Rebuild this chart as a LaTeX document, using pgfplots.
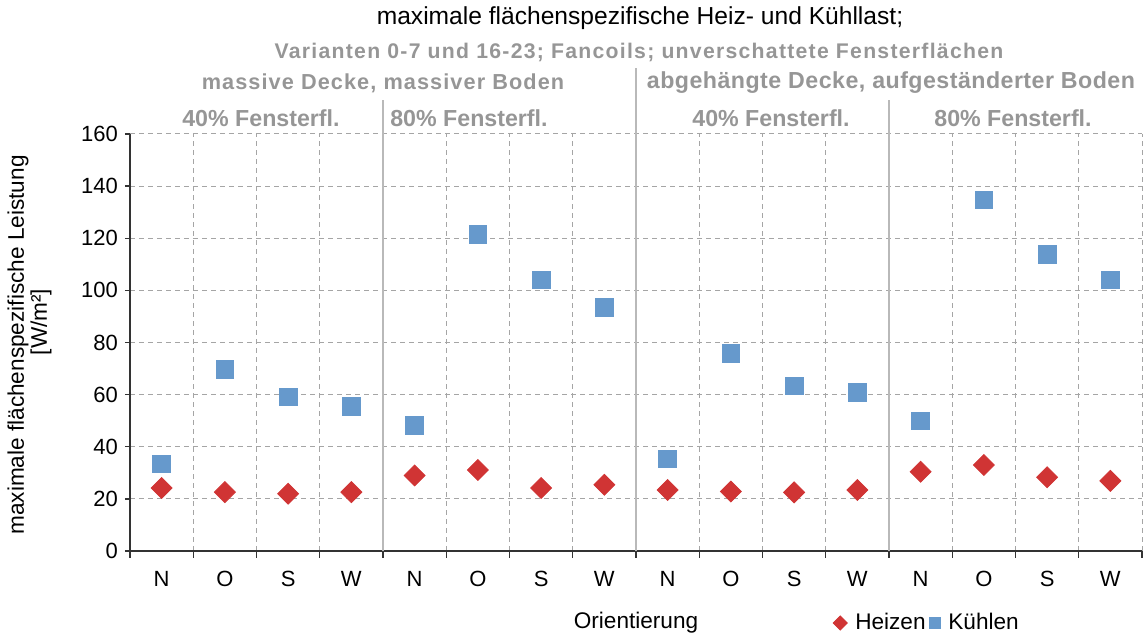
\documentclass[border=0pt]{standalone}
\usepackage{pgfplots}
\pgfplotsset{compat=1.18}
\usepackage{fontspec}
\setmainfont{Liberation Sans}
\definecolor{heiz}{RGB}{208,52,52}
\definecolor{kuehl}{RGB}{102,153,204}
\definecolor{hdrgray}{RGB}{150,150,150}
\definecolor{sepgray}{RGB}{185,185,185}
\definecolor{gridgray}{RGB}{165,165,165}

\begin{document}
\begin{tikzpicture}[x=1pt,y=1pt]
\path[use as bounding box] (-65,-43) rectangle (508.5,275.5);
\begin{axis}[
    at={(0,0)}, anchor=south west,
    scale only axis,
    width=506pt, height=208.5pt,
    xmin=-0.5, xmax=15.5, ymin=0, ymax=160,
    ytick={0,20,...,160},
    xtick={0,...,15},
    xticklabels={N,O,S,W,N,O,S,W,N,O,S,W,N,O,S,W},
    minor xtick={-0.5,0.5,...,15.5},
    xminorgrids, ymajorgrids,
    grid style={gridgray, dash pattern=on 2.5pt off 2pt, line width=0.5pt},
    minor grid style={gridgray, dash pattern=on 2.5pt off 2pt, line width=0.5pt},
    major x tick style={draw=none},
    tick align=outside,
    major tick length=2.5pt, minor tick length=3.5pt,
    axis x line*=bottom, axis y line*=left,
    axis line style={-, line width=0.9pt, black!80},
    tick style={black!80, line width=0.7pt},
    /pgf/number format/assume math mode=true,
    tick label style={font=\fontsize{11}{13}\selectfont},
    xticklabel style={yshift=-4pt},
    xlabel={Orientierung},
    xlabel style={at={(0.5,-0.1727)}, anchor=center, font=\fontsize{11.3}{13}\selectfont},
    legend columns=2,
    legend style={draw=none, fill=none, at={(0.7885,-0.1727)}, anchor=center,
        font=\fontsize{11.3}{13}\selectfont,
        /tikz/every odd column/.append style={column sep=2pt}},
    clip=false,
]
\addplot[only marks, mark=square*, mark size=3.7pt,
    mark options={rotate=45, draw=heiz, fill=heiz},
    legend image code/.code={\draw[mark=square*, mark size=2.5pt, mark options={rotate=45, draw=heiz, fill=heiz}] plot coordinates {(0.1cm,0cm)};}]
coordinates {
(0,24.2) (1,22.6) (2,22.0) (3,22.6) (4,29.0) (5,31.1) (6,24.2) (7,25.4)
(8,23.4) (9,22.8) (10,22.5) (11,23.4) (12,30.4) (13,33.0) (14,28.3) (15,26.9)
};
\addlegendentry{Heizen}
\addplot[only marks, mark=square*, mark size=4.4pt,
    mark options={draw=kuehl, fill=kuehl},
    legend image code/.code={\draw[mark=square*, mark size=2.7pt, mark options={draw=kuehl, fill=kuehl}] plot coordinates {(0.1cm,0cm)};}]
coordinates {
(0,33.4) (1,69.6) (2,59.2) (3,55.4) (4,48.1) (5,121.5) (6,104.0) (7,93.4)
(8,35.4) (9,75.9) (10,63.4) (11,60.9) (12,49.9) (13,134.7) (14,113.8) (15,104.0)
};
\addlegendentry{Kühlen}
\end{axis}
% separators
\draw[sepgray, line width=0.8pt] (126.5,0) -- (126.5,225.5);
\draw[sepgray, line width=0.8pt] (253,0) -- (253,241.5);
\draw[sepgray, line width=0.8pt] (379.5,0) -- (379.5,225.5);
% y label
\node[rotate=90, font=\fontsize{11.3}{13}\selectfont] at (-56,103) {maximale flächenspezifische Leistung};
\node[rotate=90, font=\fontsize{11.3}{13}\selectfont] at (-44.5,114.5) {[W/m²]};
% headers
\node[font=\fontsize{12.3}{14}\selectfont] at (255,266.5) {maximale flächenspezifische Heiz- und Kühllast;};
\node[hdrgray, font=\fontsize{10.6}{12}\selectfont\bfseries\addfontfeatures{LetterSpace=6}] at (254.5,249.5) {Varianten 0-7 und 16-23; Fancoils; unverschattete Fensterflächen};
\node[hdrgray, font=\fontsize{10.85}{12}\selectfont\bfseries\addfontfeatures{LetterSpace=5}] at (126.5,234) {massive Decke, massiver Boden};
\node[hdrgray, font=\fontsize{11.6}{13}\selectfont\bfseries\addfontfeatures{LetterSpace=2}] at (380.5,234) {abgehängte Decke, aufgeständerter Boden};
\node[hdrgray, font=\fontsize{11.6}{13}\selectfont\bfseries] at (65.5,216.5) {40\% Fensterfl.};
\node[hdrgray, font=\fontsize{11.6}{13}\selectfont\bfseries] at (169.5,216.5) {80\% Fensterfl.};
\node[hdrgray, font=\fontsize{11.6}{13}\selectfont\bfseries] at (320.5,216.5) {40\% Fensterfl.};
\node[hdrgray, font=\fontsize{11.6}{13}\selectfont\bfseries] at (441.5,216.5) {80\% Fensterfl.};
\end{tikzpicture}
\end{document}
